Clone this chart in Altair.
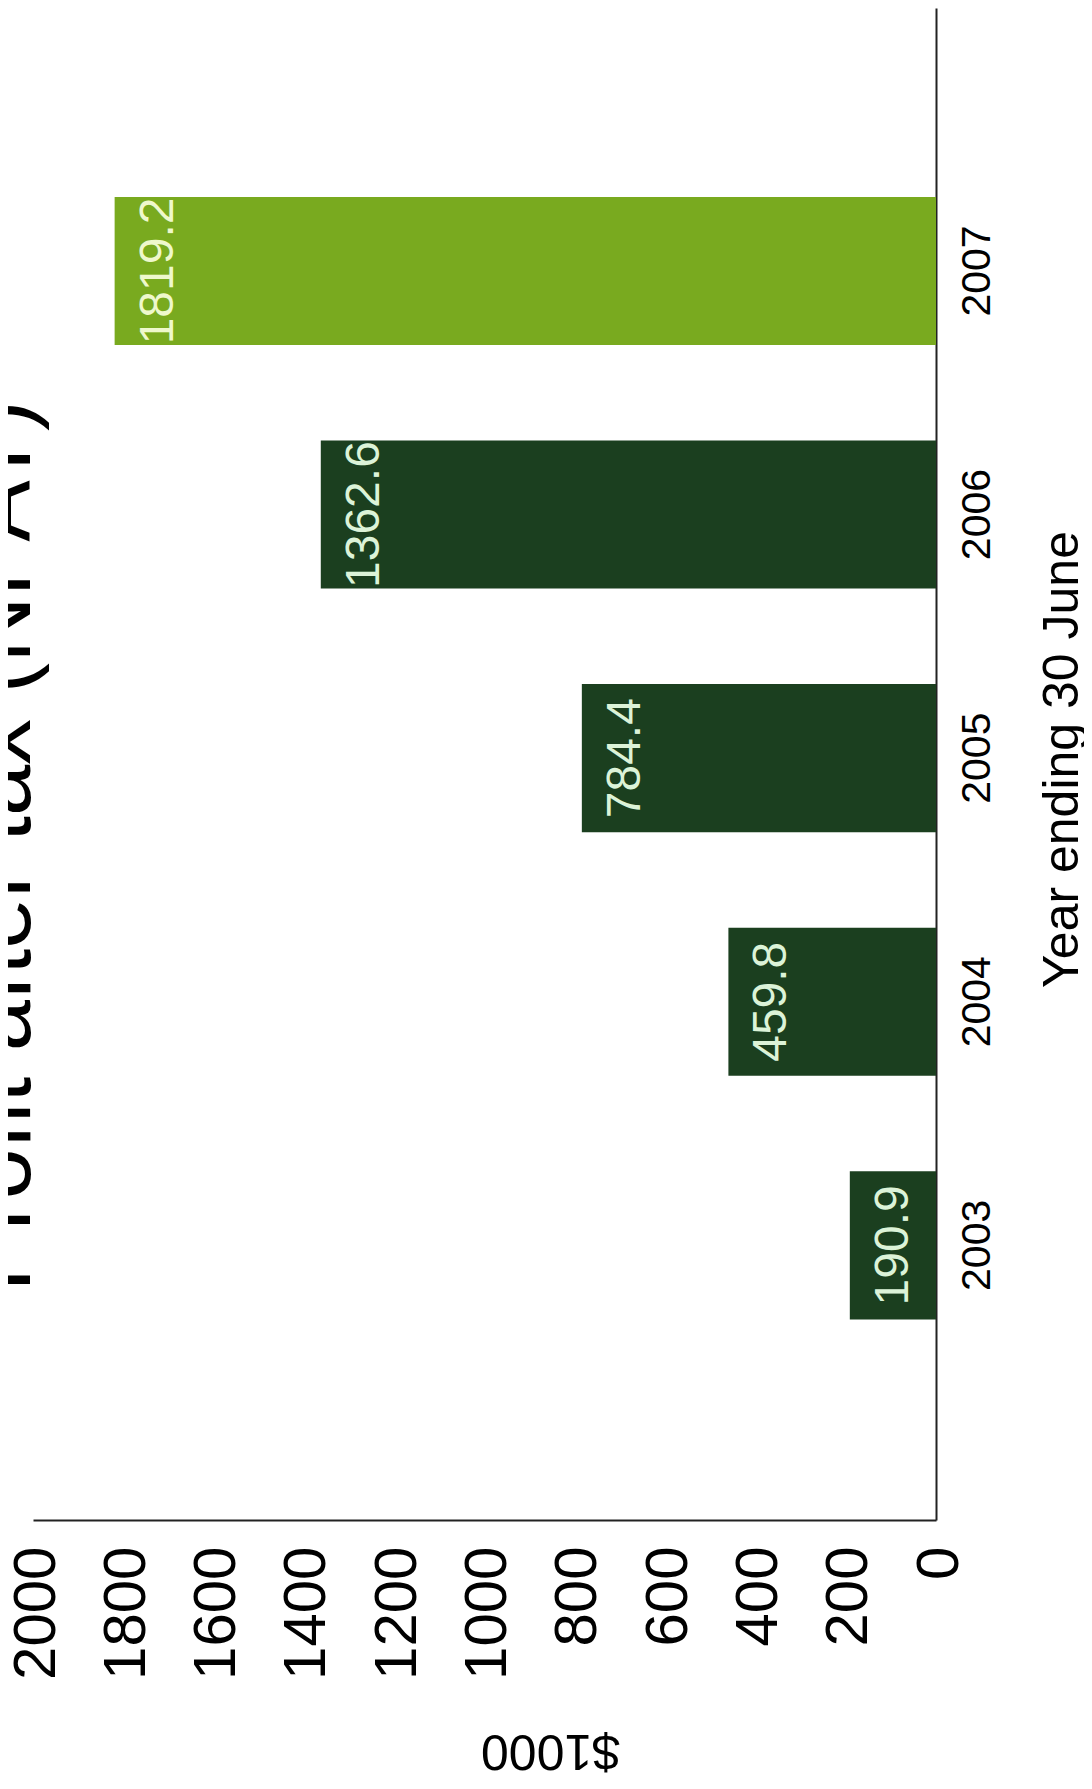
import altair as alt
import pandas as pd

# ---- data ----
years = ["2003", "2004", "2005", "2006", "2007"]
profit = [190.9, 459.8, 784.4, 1362.6, 1819.2]
bar_colors = ["#1b3f1f", "#1b3f1f", "#1b3f1f", "#1b3f1f", "#79aa1f"]
label_colors = ["#dcf3d8", "#dcf3d8", "#dcf3d8", "#dcf3d8", "#eef8cc"]
value_ticks = [0, 200, 400, 600, 800, 1000, 1200, 1400, 1600, 1800, 2000]
chart_title = ["Profit after tax (NPAT)"]

df = pd.DataFrame({
    "year": years,
    "profit": profit,
    "bar_color": bar_colors,
    "label_color": label_colors,
    "label": [f"{v:.1f}" for v in profit],
})
title_df = pd.DataFrame({"t": chart_title})

FONT = "Liberation Sans"
W, H = 903, 1512

x_enc = alt.X(
    "profit:Q",
    scale=alt.Scale(domain=[0, 2000], reverse=True),
    axis=alt.Axis(
        orient="bottom", values=value_ticks, format="d", grid=False,
        ticks=False, tickSize=0, labelFlush=False, labelOverlap=False,
        labelAngle=270, labelAlign="right", labelBaseline="middle",
        labelFontSize=60, labelFont=FONT, labelColor="black",
        labelPadding=26, labelOffset=3,
        domainColor="#222222", domainWidth=2,
        title="$1000", titleAngle=180, titleFontSize=50, titleFont=FONT,
        titleFontWeight="normal", titleColor="black", titleAlign="center",
        titleBaseline="middle", titleX=517, titleY=229,
    ),
)

y_enc = alt.Y(
    "year:N",
    sort=years[::-1],
    scale=alt.Scale(paddingInner=0.392, paddingOuter=0.7995, align=0.485),
    axis=alt.Axis(
        orient="right", grid=False, ticks=False, tickSize=0,
        labelAngle=270, labelAlign="center", labelBaseline="top",
        labelFontSize=41, labelFont=FONT, labelColor="black", labelPadding=21,
        domainColor="#222222", domainWidth=2,
        title="Year ending 30 June", titleAngle=270, titleFontSize=50,
        titleFont=FONT, titleFontWeight="normal", titleColor="black",
        titleAlign="center", titleBaseline="alphabetic", titleX=141, titleY=751,
    ),
)

bars = alt.Chart(df).mark_bar().encode(
    x=x_enc,
    y=y_enc,
    color=alt.Color("bar_color:N", scale=None),
)

labels = alt.Chart(df).mark_text(
    angle=270, align="center", baseline="top", dy=20, fontSize=48, font=FONT
).encode(
    x=alt.X("profit:Q"),
    y=alt.Y("year:N", sort=years[::-1]),
    text="label:N",
    color=alt.Color("label_color:N", scale=None),
)

# Big rotated title, partly cut off at the left edge as in the reference
title_mark = alt.Chart(title_df).mark_text(
    angle=270, align="center", baseline="alphabetic", fontSize=92,
    font=FONT, color="black",
).encode(
    text="t:N",
    x=alt.value(-3),
    y=alt.value(838),
)

chart = alt.layer(bars, labels, title_mark).properties(
    width=W,
    height=H,
    background="white",
    autosize=alt.AutoSizeParams(type="none"),
    padding={"left": 25, "top": 0, "right": 148, "bottom": 253},
).configure_view(stroke="transparent")

chart.save("out.html", embed_options={"renderer": "svg", "actions": False})
